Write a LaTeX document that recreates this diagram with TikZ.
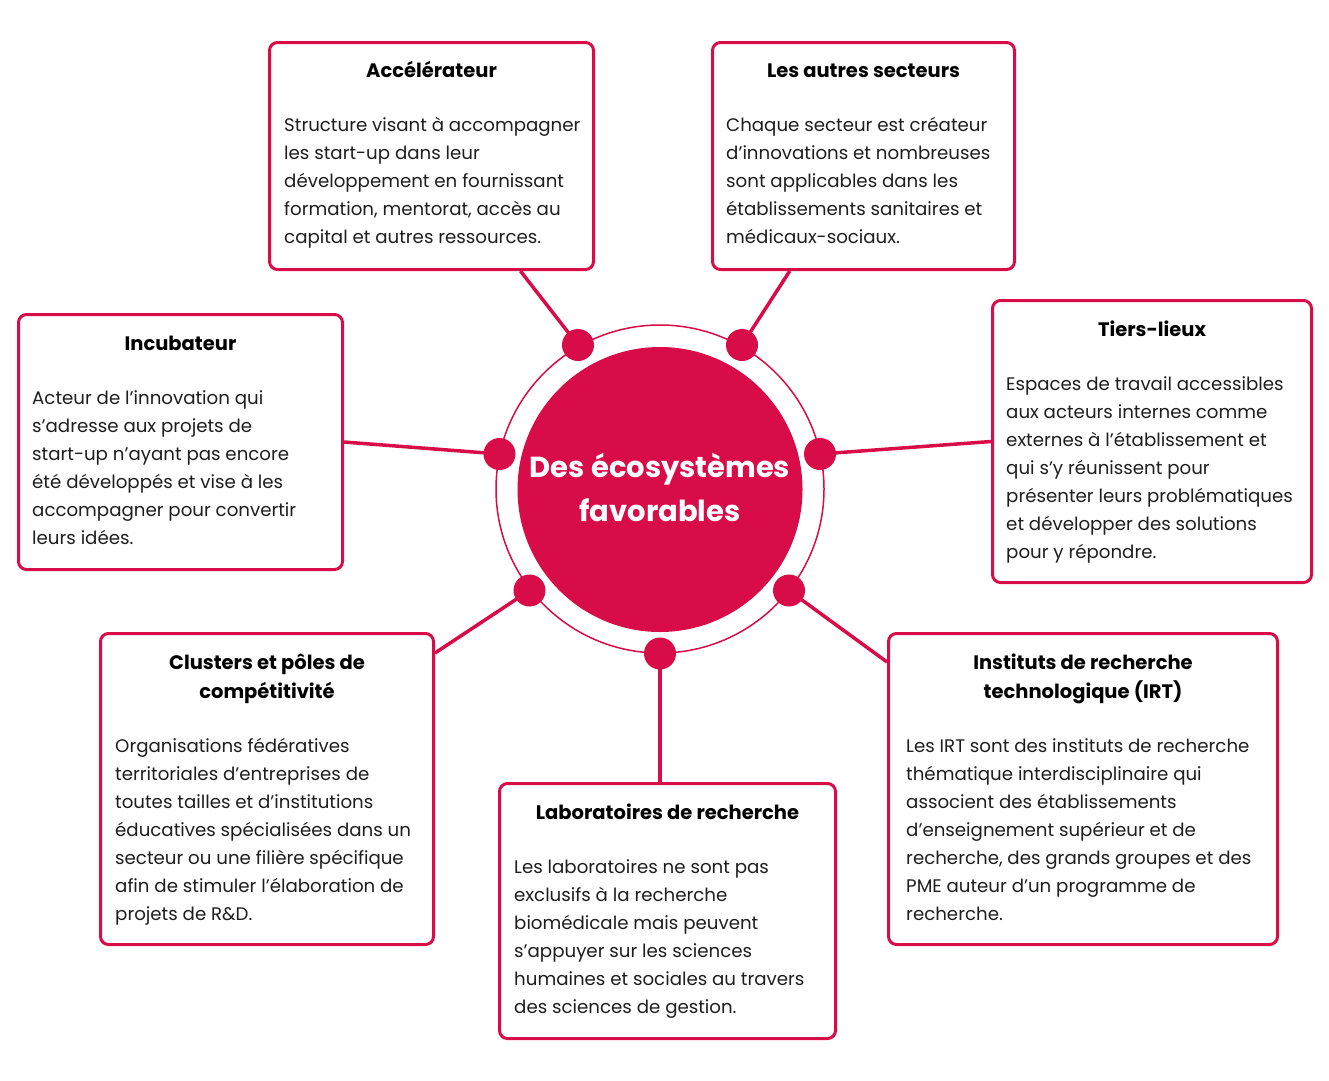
\documentclass[tikz,border=0pt]{standalone}
\usepackage{fontspec}
\setmainfont{Poppins}
\usetikzlibrary{backgrounds}
\definecolor{crim}{HTML}{D80C48}
\definecolor{txt}{HTML}{1E1E1E}
\begin{document}
\begin{tikzpicture}[x=1pt,y=-1pt,
  box/.style={draw=crim, line width=3pt, rounded corners=8pt, fill=white, inner sep=0pt, anchor=north west},
  ttl/.style={font=\fontsize{19.5}{29}\selectfont\bfseries, align=center, anchor=base, text=black, inner sep=0pt},
  body/.style={font=\fontsize{18.2}{28}\selectfont, align=left, anchor=base west, text=txt, inner sep=0pt},
  dotnode/.style={circle, fill=crim, minimum size=32pt, inner sep=0pt},
  link/.style={draw=crim, line width=3.5pt}]
\useasboundingbox (0,0) rectangle (1329,1080);
% boxes
\node[box, minimum width=324pt, minimum height=227pt] (accbox) at (268,41) {};
\node[box, minimum width=302pt, minimum height=227pt] (autbox) at (711,41) {};
\node[box, minimum width=324pt, minimum height=255pt] (incbox) at (17,313) {};
\node[box, minimum width=319pt, minimum height=282pt] (tiebox) at (991,299) {};
\node[box, minimum width=333pt, minimum height=311pt] (clubox) at (99,632) {};
\node[box, minimum width=336pt, minimum height=255pt] (labbox) at (498,782) {};
\node[box, minimum width=389pt, minimum height=311pt] (insbox) at (887,632) {};
% titles (anchor = baseline of last line)
\node[ttl] (acct) at (accbox.center |- 0,77) {Accélérateur};
\node[ttl] (autt) at (autbox.center |- 0,77) {Les autres secteurs};
\node[ttl] (inct) at (incbox.center |- 0,350) {Incubateur};
\node[ttl] (tiet) at (tiebox.center |- 0,336) {Tiers-lieux};
\node[ttl] (clut) at (clubox.center |- 0,698) {Clusters et pôles de\\compétitivité};
\node[ttl] (labt) at (labbox.center |- 0,819) {Laboratoires de recherche};
\node[ttl] (inst) at (insbox.center |- 0,698) {Instituts de recherche\\technologique (IRT)};
% bodies (anchor = baseline of last line)
\node[body] (accb) at (284,243) {Structure visant à accompagner\\les start-up dans leur\\développement en fournissant\\formation, mentorat, accès au\\capital et autres ressources.};
\node[body] (autb) at (726,243) {Chaque secteur est créateur\\d’innovations et nombreuses\\sont applicables dans les\\établissements sanitaires et\\médicaux-sociaux.};
\node[body] (incb) at (32,544) {Acteur de l’innovation qui\\s’adresse aux projets de\\start-up n’ayant pas encore\\été développés et vise à les\\accompagner pour convertir\\leurs idées.};
\node[body] (tieb) at (1006,558) {Espaces de travail accessibles\\aux acteurs internes comme\\externes à l’établissement et\\qui s’y réunissent pour\\présenter leurs problématiques\\et développer des solutions\\pour y répondre.};
\node[body] (club) at (115,920) {Organisations fédératives\\territoriales d’entreprises de\\toutes tailles et d’institutions\\éducatives spécialisées dans un\\secteur ou une filière spécifique\\afin de stimuler l’élaboration de\\projets de R\&D.};
\node[body] (labb) at (514,1013) {Les laboratoires ne sont pas\\exclusifs à la recherche\\biomédicale mais peuvent\\s’appuyer sur les sciences\\humaines et sociales au travers\\des sciences de gestion.};
\node[body] (insb) at (906,920) {Les IRT sont des instituts de recherche\\thématique interdisciplinaire qui\\associent des établissements\\d’enseignement supérieur et de\\recherche, des grands groupes et des\\PME auteur d’un programme de\\recherche.};
% centre
\node[circle, draw=crim, line width=1.5pt, minimum size=328pt, inner sep=0pt] (ring) at (660,489) {};
\node[circle, fill=crim, minimum size=285pt, inner sep=0pt] (core) at (660,489.5) {};
\node[font=\fontsize{29}{44}\selectfont\bfseries, text=white, align=center, anchor=base, inner sep=0pt] (coret) at (660,521) {Des écosystèmes\\favorables};
% dots
\node[dotnode] (d1) at (578,345) {};
\node[dotnode] (d2) at (742,345) {};
\node[dotnode] (d3) at (499.5,454) {};
\node[dotnode] (d4) at (820,454) {};
\node[dotnode] (d5) at (529.5,590.5) {};
\node[dotnode] (d6) at (789,590.5) {};
\node[dotnode] (d7) at (660,653.5) {};
% links
\begin{scope}[on background layer]
\draw[link] (d1.center) -- (accbox);
\draw[link] (d2.center) -- (autbox);
\draw[link] (d3.center) -- (incbox.east);
\draw[link] (d4.center) -- (tiebox.west);
\draw[link] (d5.center) -- ([yshift=-21pt]clubox.north east);
\draw[link] (d6.center) -- ([yshift=-30pt]insbox.north west);
\draw[link] (d7.center) -- (d7.center |- labbox.north);
\end{scope}
\end{tikzpicture}
\end{document}
